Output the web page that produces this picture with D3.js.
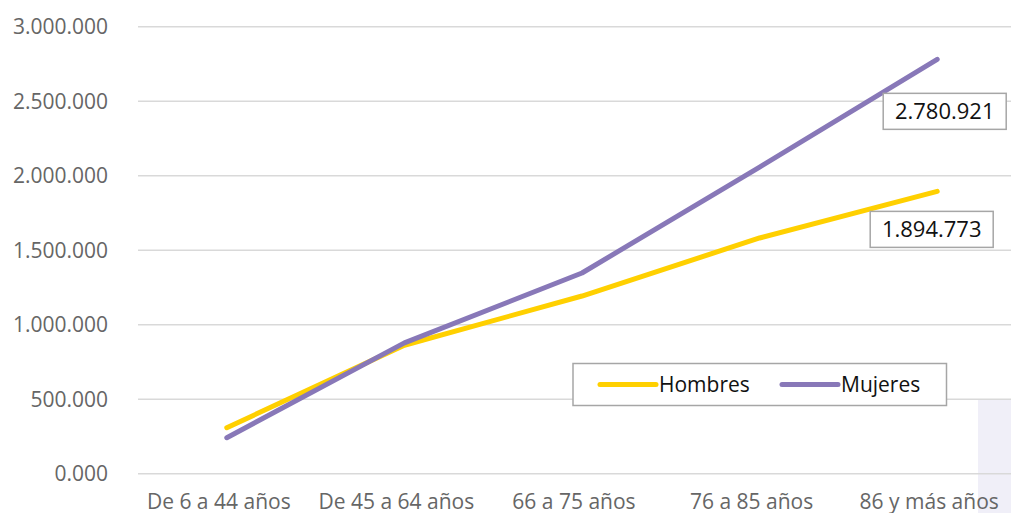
<!DOCTYPE html>
<html>
<head>
<meta charset="utf-8">
<script src="https://cdn.jsdelivr.net/npm/d3@7"></script>
<style>
  html, body { margin: 0; padding: 0; background: #fff; overflow: hidden; }
  text { font-family: "Open Sans", sans-serif; }
</style>
</head>
<body>
<div id="chart"></div>
<script>
const width = 1011;
const height = 513;

// datos
const categorias = ["De 6 a 44 años", "De 45 a 64 años", "66 a 75 años", "76 a 85 años", "86 y más años"];
const hombres = [308700, 862000, 1192600, 1582000, 1894773];
const mujeres = [241600, 878000, 1347000, 2058000, 2780921];
const yTicks = [0, 500000, 1000000, 1500000, 2000000, 2500000, 3000000];
const yTickLabels = ["0.000", "500.000", "1.000.000", "1.500.000", "2.000.000", "2.500.000", "3.000.000"];
const series = [
    { name: "Hombres", values: hombres, color: "#FFD000" },
    { name: "Mujeres", values: mujeres, color: "#8878B8" }
];

const margin = { left: 138, top: 26.7, bottom: 473.7 };

const x = d3.scaleBand()
    .domain(categorias)
    .range([margin.left, margin.left + 5 * 177.6]);

const y = d3.scaleLinear()
    .domain([0, 3000000])
    .range([margin.bottom, margin.top]);

const cx = d => x(d) + x.bandwidth() / 2;

const svg = d3.select("#chart").append("svg")
    .attr("width", width)
    .attr("height", height);

// fondo lila en la esquina
svg.append("rect")
    .attr("x", 978)
    .attr("y", y(500000))
    .attr("width", width - 978)
    .attr("height", height - y(500000))
    .attr("fill", "#F0EFF8");

// rejilla
svg.append("g").selectAll("line")
    .data(yTicks)
    .enter().append("line")
    .attr("x1", margin.left)
    .attr("x2", width)
    .attr("y1", d => y(d))
    .attr("y2", d => y(d))
    .attr("stroke", "#D9D9D9")
    .attr("stroke-width", 1.5);

// etiquetas eje y
svg.append("g").selectAll("text")
    .data(yTicks)
    .enter().append("text")
    .attr("x", 108)
    .attr("y", d => y(d))
    .attr("dy", "0.35em")
    .attr("text-anchor", "end")
    .attr("fill", "#666")
    .style("font-size", "21px")
    .text((d, i) => yTickLabels[i]);

// etiquetas eje x
svg.append("g").selectAll("text")
    .data(categorias)
    .enter().append("text")
    .attr("x", d => cx(d) - 8)
    .attr("y", 509)
    .attr("text-anchor", "middle")
    .attr("fill", "#666")
    .style("font-size", "21px")
    .text(d => d);

// líneas
const line = d3.line()
    .x((d, i) => cx(categorias[i]))
    .y(d => y(d));

svg.append("g").selectAll("path")
    .data(series)
    .enter().append("path")
    .attr("d", d => line(d.values))
    .attr("fill", "none")
    .attr("stroke", d => d.color)
    .attr("stroke-width", 5)
    .attr("stroke-linecap", "round")
    .attr("stroke-linejoin", "round");

// etiquetas de valor del último punto
const fmt = v => d3.format(",")(v).replace(/,/g, ".");
const labelOffsets = { Hombres: [-5.5, 38], Mujeres: [7.5, 52] };

series.forEach(s => {
    const last = s.values.length - 1;
    const px = cx(categorias[last]) + labelOffsets[s.name][0];
    const py = y(s.values[last]) + labelOffsets[s.name][1];
    const g = svg.append("g").attr("transform", `translate(${px},${py})`);
    g.append("rect")
        .attr("x", -61.5)
        .attr("y", -18)
        .attr("width", 123)
        .attr("height", 36)
        .attr("fill", "#fff")
        .attr("stroke", "#A6A6A6")
        .attr("stroke-width", 1.5);
    g.append("text")
        .attr("text-anchor", "middle")
        .attr("dy", "0.35em")
        .attr("fill", "#111")
        .style("font-size", "22px")
        .text(fmt(s.values[last]));
});

// leyenda
const legend = svg.append("g");
legend.append("rect")
    .attr("x", 573)
    .attr("y", 363.5)
    .attr("width", 373.5)
    .attr("height", 42)
    .attr("fill", "#fff")
    .attr("stroke", "#A6A6A6")
    .attr("stroke-width", 1.5);

const legendItems = legend.selectAll("g")
    .data(series)
    .enter().append("g")
    .attr("transform", (d, i) => `translate(${i === 0 ? 600 : 782},384.5)`);

legendItems.append("line")
    .attr("x1", 0)
    .attr("x2", 56)
    .attr("stroke", d => d.color)
    .attr("stroke-width", 5)
    .attr("stroke-linecap", "round");

legendItems.append("text")
    .attr("x", 59)
    .attr("dy", "0.35em")
    .attr("fill", "#111")
    .style("font-size", "21px")
    .text(d => d.name);
</script>
</body>
</html>
